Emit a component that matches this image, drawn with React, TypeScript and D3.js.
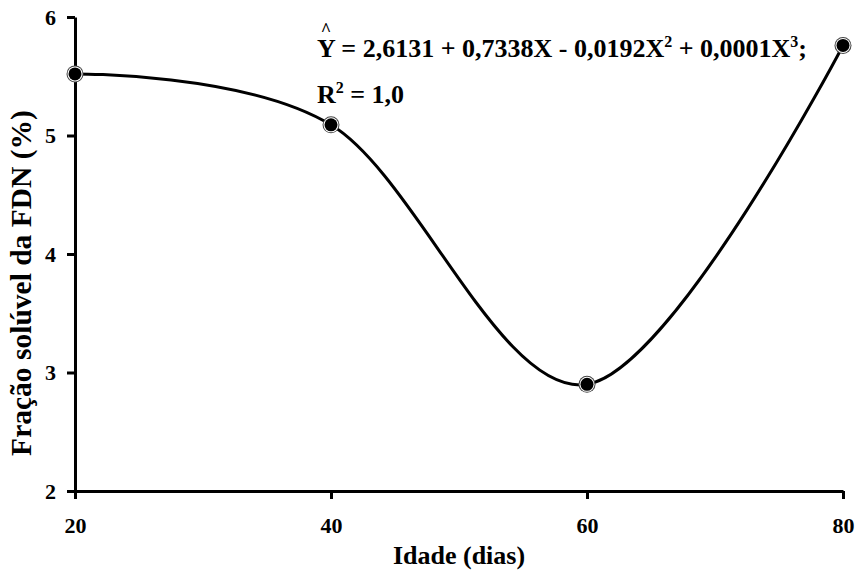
import { useEffect, useRef } from "react";
import * as d3 from "d3";

const idade = [20, 40, 60, 80];
const fracao = [5.52, 5.09, 2.9, 5.76];
const xTicks = [20, 40, 60, 80];
const yTicks = [2, 3, 4, 5, 6];

const font = "'Liberation Serif', 'Times New Roman', serif";

const App = () => {
  const svgRef = useRef<SVGSVGElement>(null);
  const width = 857;
  const height = 577;
  const margin = { top: 17, right: 14, bottom: 86, left: 75 };

  useEffect(() => {
    const svg = d3.select(svgRef.current);
    svg.selectAll("*").remove();

    const x = d3.scaleLinear().domain([20, 80]).range([margin.left, width - margin.right]);
    const y = d3.scaleLinear().domain([2, 6]).range([height - margin.bottom, margin.top]);

    // eixo x
    const gx = svg.append("g")
      .attr("transform", `translate(0,${height - margin.bottom})`)
      .call(d3.axisBottom(x).tickValues(xTicks).tickFormat(d3.format("d")).tickSize(8).tickSizeOuter(0).tickPadding(18));
    // eixo y
    const gy = svg.append("g")
      .attr("transform", `translate(${margin.left},0)`)
      .call(d3.axisLeft(y).tickValues(yTicks).tickFormat(d3.format("d")).tickSize(8).tickSizeOuter(0).tickPadding(11));

    [gx, gy].forEach(g => {
      g.select(".domain").attr("stroke", "#000").attr("stroke-width", 3);
      g.selectAll(".tick line").attr("stroke", "#000").attr("stroke-width", 3);
      g.selectAll(".tick text")
        .attr("fill", "#000")
        .style("font-family", font)
        .style("font-weight", "bold")
        .style("font-size", "22px");
    });

    const pts = idade.map((d, i) => [x(d), y(fracao[i])] as [number, number]);

    const line = d3.line().curve(d3.curveCardinal.tension(0));
    svg.append("path")
      .attr("d", line(pts))
      .attr("fill", "none")
      .attr("stroke", "#000")
      .attr("stroke-width", 3);

    const pt = svg.append("g").selectAll("g").data(pts).join("g")
      .attr("transform", d => `translate(${d[0]},${d[1]})`);
    pt.append("circle").attr("r", 8.5).attr("fill", "#444");
    pt.append("circle").attr("r", 7.5).attr("fill", "#fff");
    pt.append("circle").attr("r", 6.5).attr("fill", "#000");

    // equação
    const eq = svg.append("g")
      .style("font-family", font)
      .style("font-weight", "bold")
      .attr("fill", "#000");
    eq.append("text").attr("x", 326).attr("y", 36).attr("text-anchor", "middle")
      .style("font-size", "18px").text("^");
    const t1 = eq.append("text").attr("x", 317).attr("y", 57).style("font-size", "26px");
    t1.append("tspan").text("Y = 2,6131 + 0,7338X - 0,0192X");
    t1.append("tspan").attr("dy", -10).style("font-size", "16px").text("2");
    t1.append("tspan").attr("dy", 10).text(" + 0,0001X");
    t1.append("tspan").attr("dy", -10).style("font-size", "16px").text("3");
    t1.append("tspan").attr("dy", 10).text(";");
    const t2 = eq.append("text").attr("x", 317).attr("y", 103).style("font-size", "26px");
    t2.append("tspan").text("R");
    t2.append("tspan").attr("dy", -10).style("font-size", "16px").text("2");
    t2.append("tspan").attr("dy", 10).text(" = 1,0");

    // títulos
    svg.append("text")
      .attr("x", (margin.left + width - margin.right) / 2)
      .attr("y", 564)
      .attr("text-anchor", "middle")
      .style("font-family", font)
      .style("font-weight", "bold")
      .style("font-size", "26px")
      .text("Idade (dias)");

    svg.append("text")
      .attr("transform", `translate(31,283) rotate(-90)`)
      .attr("text-anchor", "middle")
      .style("font-family", font)
      .style("font-weight", "bold")
      .style("font-size", "29.5px")
      .text("Fração solúvel da FDN (%)");
  }, []);

  return (
    <svg ref={svgRef} width={width} height={height}
      style={{ position: "absolute", left: 0, top: 0, background: "#fff" }}></svg>
  );
};

export default App;
